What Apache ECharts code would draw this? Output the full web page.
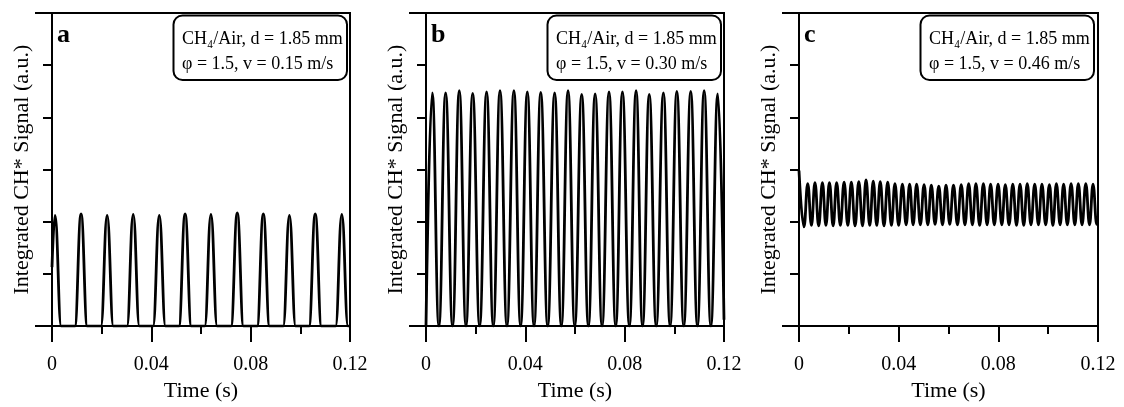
<!DOCTYPE html>
<html><head><meta charset="utf-8">
<script src="https://cdn.jsdelivr.net/npm/echarts@6/dist/echarts.min.js"></script>
<style>html,body{margin:0;padding:0;background:#fff}#c{width:1124px;height:407px}</style>
</head><body><div id="c"></div>
<script>
// ---------- data ----------
var xTicks = [0, 0.04, 0.08, 0.12];
var panelLetters = ['a', 'b', 'c'];
var legendLine1 = 'CH\u2084/Air, d = 1.85 mm';
var legendLine2 = ['\u03c6 = 1.5, v = 0.15 m/s', '\u03c6 = 1.5, v = 0.30 m/s', '\u03c6 = 1.5, v = 0.46 m/s'];

// panel a: v = 0.15 m/s
var aStart = [0, 1.13];
var aEnd = [0.12, 0];
var aPeakT = [0.0012, 0.0117, 0.0222, 0.0327, 0.0432, 0.0536, 0.0640, 0.0746, 0.0851, 0.0956, 0.1060, 0.1167];
var aPeakV = [2.12, 2.15, 2.12, 2.14, 2.12, 2.15, 2.14, 2.17, 2.15, 2.12, 2.15, 2.14];
var aRiseT = [0.0092, 0.0197, 0.0302, 0.0407, 0.0511, 0.0615, 0.0721, 0.0826, 0.0931, 0.1035, 0.1142];
var aFallT = [0.0037, 0.0142, 0.0247, 0.0352, 0.0457, 0.0561, 0.0665, 0.0771, 0.0876, 0.0981, 0.1085, 0.1192];

// panel b: v = 0.30 m/s
var bEnd = [0.12, 0.12];
var bPeakT = [0.0025, 0.0079, 0.0134, 0.0188, 0.0244, 0.0298, 0.0354, 0.0408, 0.0462, 0.0518, 0.0572, 0.0627, 0.0681, 0.0737, 0.0791, 0.0846, 0.0899, 0.0956, 0.1010, 0.1066, 0.1120, 0.1175];
var bPeakV = [4.47, 4.47, 4.51, 4.46, 4.49, 4.51, 4.51, 4.49, 4.48, 4.47, 4.51, 4.44, 4.45, 4.49, 4.49, 4.51, 4.44, 4.47, 4.50, 4.50, 4.51, 4.45];
var bTroughT = [0, 0.0052, 0.0107, 0.0161, 0.0216, 0.0271, 0.0326, 0.0381, 0.0435, 0.0490, 0.0545, 0.0599, 0.0654, 0.0709, 0.0764, 0.0819, 0.0872, 0.0927, 0.0983, 0.1038, 0.1093, 0.1147];
var bTroughV = [0, 0, 0, 0, 0, 0, 0, 0, 0, 0, 0, 0, 0, 0, 0, 0, 0, 0, 0, 0, 0, 0];

// panel c: v = 0.46 m/s
var cStart = [0, 2.98];
var cEnd = [0.12, 1.96];
var cPeakT = [0.0035, 0.0064, 0.0094, 0.0122, 0.0151, 0.0181, 0.0210, 0.0240, 0.0269, 0.0298, 0.0326, 0.0356, 0.0385, 0.0415, 0.0444, 0.0472, 0.0502, 0.0531, 0.0561, 0.0590, 0.0620, 0.0651, 0.0681, 0.0710, 0.0740, 0.0769, 0.0799, 0.0828, 0.0858, 0.0887, 0.0916, 0.0946, 0.0975, 0.1005, 0.1033, 0.1062, 0.1092, 0.1121, 0.1151, 0.1180];
var cPeakV = [2.73, 2.75, 2.75, 2.75, 2.75, 2.76, 2.76, 2.77, 2.80, 2.78, 2.77, 2.76, 2.73, 2.72, 2.72, 2.72, 2.71, 2.70, 2.68, 2.70, 2.70, 2.71, 2.73, 2.73, 2.73, 2.72, 2.72, 2.71, 2.72, 2.72, 2.73, 2.72, 2.72, 2.71, 2.73, 2.72, 2.73, 2.73, 2.73, 2.72];
var cTroughT = [0.0020, 0.0050, 0.0079, 0.0108, 0.0137, 0.0166, 0.0196, 0.0225, 0.0255, 0.0284, 0.0312, 0.0341, 0.0371, 0.0400, 0.0430, 0.0458, 0.0487, 0.0517, 0.0546, 0.0576, 0.0605, 0.0636, 0.0666, 0.0696, 0.0725, 0.0755, 0.0784, 0.0814, 0.0843, 0.0873, 0.0902, 0.0931, 0.0961, 0.0990, 0.1019, 0.1048, 0.1077, 0.1107, 0.1136, 0.1166, 0.1195];
var cTroughV = [1.90, 1.93, 1.92, 1.93, 1.92, 1.93, 1.93, 1.92, 1.92, 1.93, 1.93, 1.92, 1.93, 1.93, 1.94, 1.94, 1.94, 1.94, 1.95, 1.94, 1.95, 1.94, 1.94, 1.94, 1.93, 1.94, 1.94, 1.94, 1.94, 1.93, 1.93, 1.94, 1.94, 1.94, 1.93, 1.94, 1.94, 1.94, 1.94, 1.94, 1.95];

// ---------- build series data ----------
function pairs(ts, vs) { return ts.map(function (t, i) { return [t, vs[i]]; }); }
function zeros(ts) { return ts.map(function (t) { return [t, 0]; }); }
function merge(list) {
  var all = [];
  list.forEach(function (l) { all = all.concat(l); });
  return all.sort(function (p, q) { return p[0] - q[0]; });
}
var aData = merge([[aStart], pairs(aPeakT, aPeakV), zeros(aRiseT), zeros(aFallT), [aEnd]]);
var bData = merge([pairs(bTroughT, bTroughV), pairs(bPeakT, bPeakV), [bEnd]]);
var cData = merge([[cStart], pairs(cPeakT, cPeakV), pairs(cTroughT, cTroughV), [cEnd]]);
var seriesData = [aData, bData, cData];

// ---------- layout ----------
var FONT = '"Liberation Serif", "DejaVu Serif", serif';
var lefts = [52, 426, 799];
var widths = [298, 298, 299];
var grids = [], xAxes = [], yAxes = [], series = [], graphics = [];
lefts.forEach(function (L, i) {
  grids.push({ left: L, top: 13, width: widths[i], height: 314, show: true, borderColor: '#000', borderWidth: 2, backgroundColor: 'transparent' });
  xAxes.push({
    gridIndex: i, type: 'value', min: 0, max: 0.12, interval: 0.04,
    name: 'Time (s)', nameLocation: 'middle', nameGap: 49,
    nameTextStyle: { fontFamily: FONT, fontSize: 22, color: '#000' },
    axisLine: { lineStyle: { color: '#000', width: 2 } },
    axisTick: { show: true, length: 16, lineStyle: { color: '#000', width: 2 } },
    minorTick: { show: true, splitNumber: 2, length: 8, lineStyle: { color: '#000', width: 2 } },
    splitLine: { show: false }, minorSplitLine: { show: false },
    axisLabel: { margin: 29, fontFamily: FONT, fontSize: 20, color: '#000',
      formatter: function (v) { var m = xTicks.filter(function (t) { return Math.abs(t - v) < 1e-9; }); return m.length ? String(m[0]) : ''; } }
  });
  yAxes.push({
    gridIndex: i, type: 'value', min: 0, max: 6, interval: 6,
    name: 'Integrated CH* Signal (a.u.)', nameLocation: 'middle', nameGap: 19,
    nameTextStyle: { fontFamily: FONT, fontSize: 22, color: '#000' },
    axisLine: { lineStyle: { color: '#000', width: 2 } },
    axisTick: { show: true, length: 17, lineStyle: { color: '#000', width: 2 } },
    minorTick: { show: true, splitNumber: 6, length: 9, lineStyle: { color: '#000', width: 2 } },
    splitLine: { show: false }, minorSplitLine: { show: false },
    axisLabel: { show: false }
  });
  series.push({
    type: 'line', xAxisIndex: i, yAxisIndex: i, data: seriesData[i],
    showSymbol: false, smooth: 0.45, smoothMonotone: 'x', animation: false,
    lineStyle: { color: '#000', width: 2.8 }
  });
  graphics.push({ type: 'text', x: L + 5, y: 35, style: { text: panelLetters[i], font: 'bold 26px ' + FONT, fill: '#000', verticalAlign: 'middle', align: 'left' } });
  graphics.push({ type: 'rect', shape: { x: L + 121.5, y: 15.5, width: 173.5, height: 64.5, r: 9 }, style: { fill: '#fff', stroke: '#000', lineWidth: 2 } });
  graphics.push({ type: 'text', x: L + 130, y: 39, style: { text: legendLine1, font: '18px ' + FONT, fill: '#000', verticalAlign: 'middle', align: 'left' } });
  graphics.push({ type: 'text', x: L + 130, y: 64, style: { text: legendLine2[i], font: '18px ' + FONT, fill: '#000', verticalAlign: 'middle', align: 'left' } });
});

var chart = echarts.init(document.getElementById('c'), null, { renderer: 'canvas' });
chart.setOption({
  animation: false,
  backgroundColor: '#fff',
  grid: grids, xAxis: xAxes, yAxis: yAxes, series: series, graphic: graphics
});
</script></body></html>
